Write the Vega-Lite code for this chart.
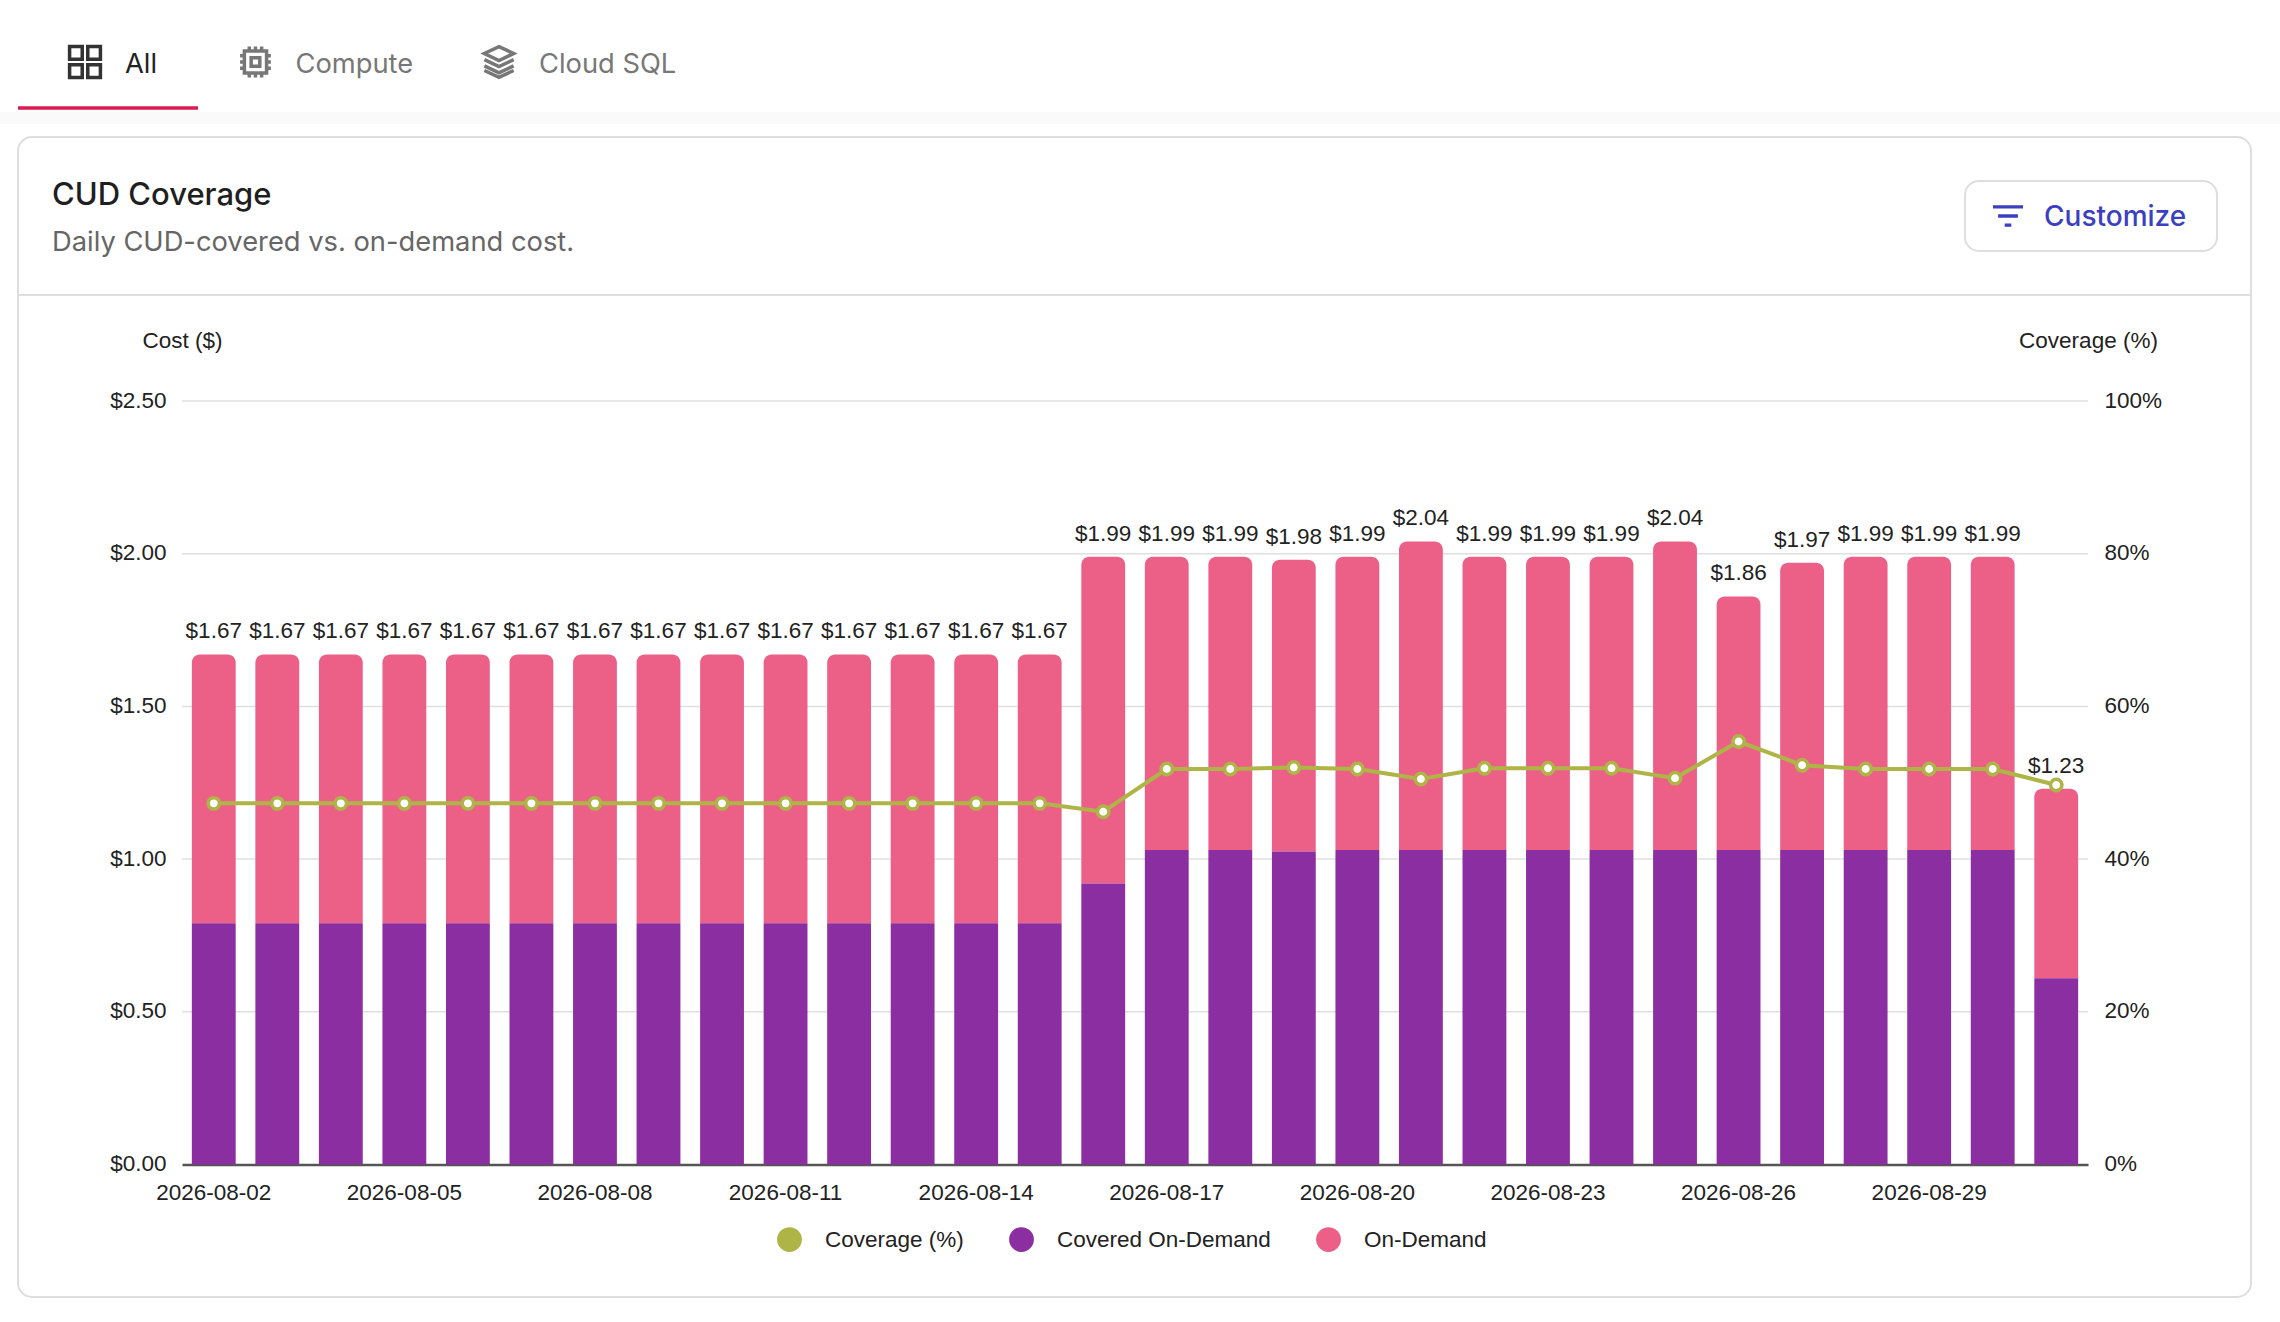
{
  "$schema": "https://vega.github.io/schema/vega-lite/v6.json",
  "background": "white",
  "autosize": {"type": "none"},
  "padding": {"left": 18, "top": 137, "right": 29, "bottom": 25},
  "width": 2233,
  "height": 1160,
  "view": {"stroke": "#dedede", "strokeWidth": 2, "cornerRadius": 14},
  "title": {
    "text": "CUD Coverage",
    "subtitle": "Daily CUD-covered vs. on-demand cost.",
    "anchor": "start",
    "frame": "group",
    "orient": "top",
    "offset": -218,
    "dx": 34,
    "font": "Inter",
    "fontSize": 31,
    "fontWeight": 500,
    "color": "#1f1f1f",
    "subtitleFont": "Inter",
    "subtitleFontSize": 27.3,
    "subtitleColor": "#666666",
    "subtitlePadding": 17
  },
  "datasets": {
    "days": [
      {"date": "2026-08-02", "covered": 0.79, "total": 1.67, "coverage": 47.3},
      {"date": "2026-08-03", "covered": 0.79, "total": 1.67, "coverage": 47.3},
      {"date": "2026-08-04", "covered": 0.79, "total": 1.67, "coverage": 47.3},
      {"date": "2026-08-05", "covered": 0.79, "total": 1.67, "coverage": 47.3},
      {"date": "2026-08-06", "covered": 0.79, "total": 1.67, "coverage": 47.3},
      {"date": "2026-08-07", "covered": 0.79, "total": 1.67, "coverage": 47.3},
      {"date": "2026-08-08", "covered": 0.79, "total": 1.67, "coverage": 47.3},
      {"date": "2026-08-09", "covered": 0.79, "total": 1.67, "coverage": 47.3},
      {"date": "2026-08-10", "covered": 0.79, "total": 1.67, "coverage": 47.3},
      {"date": "2026-08-11", "covered": 0.79, "total": 1.67, "coverage": 47.3},
      {"date": "2026-08-12", "covered": 0.79, "total": 1.67, "coverage": 47.3},
      {"date": "2026-08-13", "covered": 0.79, "total": 1.67, "coverage": 47.3},
      {"date": "2026-08-14", "covered": 0.79, "total": 1.67, "coverage": 47.3},
      {"date": "2026-08-15", "covered": 0.79, "total": 1.67, "coverage": 47.3},
      {"date": "2026-08-16", "covered": 0.92, "total": 1.99, "coverage": 46.2},
      {"date": "2026-08-17", "covered": 1.03, "total": 1.99, "coverage": 51.8},
      {"date": "2026-08-18", "covered": 1.03, "total": 1.99, "coverage": 51.8},
      {"date": "2026-08-19", "covered": 1.025, "total": 1.98, "coverage": 52.0},
      {"date": "2026-08-20", "covered": 1.03, "total": 1.99, "coverage": 51.8},
      {"date": "2026-08-21", "covered": 1.03, "total": 2.04, "coverage": 50.5},
      {"date": "2026-08-22", "covered": 1.03, "total": 1.99, "coverage": 51.9},
      {"date": "2026-08-23", "covered": 1.03, "total": 1.99, "coverage": 51.9},
      {"date": "2026-08-24", "covered": 1.03, "total": 1.99, "coverage": 51.9},
      {"date": "2026-08-25", "covered": 1.03, "total": 2.04, "coverage": 50.6},
      {"date": "2026-08-26", "covered": 1.03, "total": 1.86, "coverage": 55.4},
      {"date": "2026-08-27", "covered": 1.03, "total": 1.97, "coverage": 52.3},
      {"date": "2026-08-28", "covered": 1.03, "total": 1.99, "coverage": 51.8},
      {"date": "2026-08-29", "covered": 1.03, "total": 1.99, "coverage": 51.8},
      {"date": "2026-08-30", "covered": 1.03, "total": 1.99, "coverage": 51.8},
      {"date": "2026-08-31", "covered": 0.61, "total": 1.23, "coverage": 49.7}
    ],
    "gridlines": [
      {"cost": 0.5},
      {"cost": 1.0},
      {"cost": 1.5},
      {"cost": 2.0},
      {"cost": 2.5}
    ],
    "tabs": [
      {"part": "All", "zone": "tabs"},
      {"part": "Compute", "zone": "tabs"},
      {"part": "Cloud SQL", "zone": "tabs"}
    ],
    "active": [{"part": "All", "zone": "underline"}],
    "header": [
      {"part": "Customize", "zone": "button"},
      {"part": "divider", "zone": "divider"}
    ]
  },
  "layer": [
    {
      "data": {"name": "tabs"},
      "encoding": {
        "x": {
          "field": "part",
          "type": "nominal",
          "axis": null,
          "scale": {
            "type": "point",
            "padding": 0,
            "domain": ["All", "s1", "s2", "s3", "s4", "s5", "s6", "Compute", "s7", "s8", "s9", "s10", "s11", "s12", "s13", "s14", "s15", "Cloud SQL"],
            "range": [107, 521]
          }
        },
        "y": {
          "field": "zone",
          "type": "nominal",
          "axis": null,
          "scale": {
            "type": "point",
            "padding": 0,
            "domain": ["tabs", "underline"],
            "range": [-75, -29]
          }
        }
      },
      "layer": [
        {
          "data": {"name": "active"},
          "mark": {"type": "rule", "color": "#fafafa", "strokeWidth": 12, "yOffset": 10, "xOffset": -125, "x2Offset": 2155},
          "encoding": {"x2": {"field": "part"}}
        },
        {
          "data": {"name": "active"},
          "mark": {"type": "rule", "color": "#dc1a51", "strokeWidth": 3.5, "xOffset": -107, "x2Offset": 73},
          "encoding": {"x2": {"field": "part"}}
        },
        {
          "mark": {"type": "text", "align": "left", "baseline": "middle", "font": "Inter", "fontSize": 27.3, "dy": 3},
          "encoding": {
            "text": {"field": "part"},
            "color": {
              "field": "part",
              "type": "nominal",
              "legend": null,
              "scale": {"domain": ["All", "Compute", "Cloud SQL"], "range": ["#222222", "#777777", "#777777"]}
            }
          }
        },
        {
          "mark": {"type": "point", "filled": false, "size": 950, "strokeWidth": 3.5, "opacity": 1, "xOffset": -40},
          "encoding": {
            "stroke": {
              "field": "part",
              "type": "nominal",
              "legend": null,
              "scale": {"domain": ["All", "Compute", "Cloud SQL"], "range": ["#333333", "#777777", "#777777"]}
            },
            "shape": {
              "field": "part",
              "type": "nominal",
              "legend": null,
              "scale": {
                "domain": ["All", "Compute", "Cloud SQL"],
                "range": [
                  "M-1,-1H-0.18V-0.18H-1Z M0.18,-1H1V-0.18H0.18Z M-1,0.18H-0.18V1H-1Z M0.18,0.18H1V1H0.18Z",
                  "M-0.72,-0.72H0.72V0.72H-0.72Z M-0.28,-0.28H0.28V0.28H-0.28Z M-0.4,-1V-0.72 M0,-1V-0.72 M0.4,-1V-0.72 M-0.4,0.72V1 M0,0.72V1 M0.4,0.72V1 M-1,-0.4H-0.72 M-1,0H-0.72 M-1,0.4H-0.72 M0.72,-0.4H1 M0.72,0H1 M0.72,0.4H1",
                  "M0,-1L0.95,-0.55L0,-0.1L-0.95,-0.55Z M-0.95,-0.15L0,0.3L0.95,-0.15 M-0.95,0.25L0,0.7L0.95,0.25 M-0.95,0.55L0,1L0.95,0.55"
                ]
              }
            }
          }
        }
      ]
    },
    {
      "data": {"name": "header"},
      "encoding": {
        "y": {
          "field": "zone",
          "type": "nominal",
          "axis": null,
          "scale": {"type": "point", "padding": 0, "domain": ["button", "divider"], "range": [79, 158]}
        }
      },
      "layer": [
        {
          "transform": [{"filter": "datum.zone === 'divider'"}],
          "mark": {"type": "rule", "color": "#dedede", "strokeWidth": 2}
        },
        {
          "transform": [{"filter": "datum.zone === 'button'"}],
          "encoding": {
            "x": {
              "field": "part",
              "type": "nominal",
              "axis": null,
              "scale": {"type": "point", "padding": 0, "domain": ["Customize"], "range": [2073, 2073]}
            }
          },
          "layer": [
            {
              "mark": {"type": "rect", "width": 252, "height": 70, "cornerRadius": 14, "fill": "white", "stroke": "#dedede", "strokeWidth": 2}
            },
            {
              "mark": {"type": "point", "filled": true, "size": 900, "color": "#3b3fc0", "opacity": 1, "xOffset": -83, "shape": "M-1,-0.72H1V-0.5H-1Z M-0.66,-0.11H0.66V0.11H-0.66Z M-0.22,0.5H0.22V0.72H-0.22Z"}
            },
            {
              "mark": {"type": "text", "align": "left", "baseline": "middle", "font": "Inter", "fontSize": 28, "fontWeight": 500, "color": "#3b3fc0", "dx": -47, "dy": 2},
              "encoding": {"text": {"field": "part"}}
            }
          ]
        }
      ]
    },
    {
      "data": {"name": "days"},
      "encoding": {
        "x": {
          "field": "date",
          "type": "nominal",
          "title": null,
          "scale": {
            "type": "band",
            "domain": ["2026-08-02", "2026-08-03", "2026-08-04", "2026-08-05", "2026-08-06", "2026-08-07", "2026-08-08", "2026-08-09", "2026-08-10", "2026-08-11", "2026-08-12", "2026-08-13", "2026-08-14", "2026-08-15", "2026-08-16", "2026-08-17", "2026-08-18", "2026-08-19", "2026-08-20", "2026-08-21", "2026-08-22", "2026-08-23", "2026-08-24", "2026-08-25", "2026-08-26", "2026-08-27", "2026-08-28", "2026-08-29", "2026-08-30", "2026-08-31"],
            "range": [164, 2070],
            "paddingInner": 0.31,
            "paddingOuter": 0.155
          },
          "axis": {
            "orient": "bottom",
            "offset": -132.5,
            "values": ["2026-08-02", "2026-08-05", "2026-08-08", "2026-08-11", "2026-08-14", "2026-08-17", "2026-08-20", "2026-08-23", "2026-08-26", "2026-08-29"],
            "labelAngle": 0,
            "labelPadding": 17,
            "labelFont": "Liberation Sans",
            "labelFontSize": 22.5,
            "labelColor": "#222222",
            "ticks": false,
            "domainColor": "#555555",
            "domainWidth": 2.5,
            "grid": false
          }
        }
      },
      "layer": [
        {
          "encoding": {
            "y": {
              "field": "total",
              "type": "quantitative",
              "scale": {"domain": [0, 2.5], "range": [1027.5, 264]},
              "axis": {
                "orient": "left",
                "offset": -163,
                "values": [0, 0.5, 1, 1.5, 2, 2.5],
                "format": "$.2f",
                "labelPadding": 15,
                "labelOffset": -1,
                "labelFont": "Liberation Sans",
                "labelFontSize": 22.5,
                "labelColor": "#222222",
                "ticks": false,
                "domain": false,
                "grid": false,
                "title": "Cost ($)",
                "titleFont": "Liberation Sans",
                "titleFontSize": 22.5,
                "titleFontWeight": "normal",
                "titleColor": "#222222",
                "titleAngle": 0,
                "titleX": 1,
                "titleY": 203,
                "titleAlign": "center",
                "titleBaseline": "middle"
              }
            }
          },
          "layer": [
            {
              "data": {"name": "gridlines"},
              "mark": {"type": "rule", "color": "#e0e0e0", "strokeWidth": 1.5, "xOffset": -31.8, "x2Offset": 31.8},
              "encoding": {
                "x": {"datum": "2026-08-02"},
                "x2": {"datum": "2026-08-31"},
                "y": {"field": "cost", "type": "quantitative"}
              }
            },
            {
              "mark": {"type": "bar", "cornerRadiusTopLeft": 8, "cornerRadiusTopRight": 8},
              "encoding": {
                "y2": {"field": "covered"},
                "color": {
                  "datum": "On-Demand",
                  "title": null,
                  "scale": {
                    "domain": ["Coverage (%)", "Covered On-Demand", "On-Demand"],
                    "range": ["#aeb446", "#8b2ea1", "#ec6088"]
                  },
                  "legend": {
                    "orient": "none",
                    "legendX": 759,
                    "legendY": 1090,
                    "direction": "horizontal",
                    "symbolType": "circle",
                    "symbolSize": 616,
                    "symbolStrokeWidth": 0,
                    "labelFont": "Liberation Sans",
                    "labelFontSize": 22.5,
                    "labelColor": "#222222",
                    "labelLimit": 400,
                    "labelOffset": 23,
                    "columnPadding": 45
                  }
                }
              }
            },
            {
              "mark": {"type": "bar"},
              "encoding": {
                "y": {"field": "covered", "type": "quantitative"},
                "y2": {"datum": 0},
                "color": {"datum": "Covered On-Demand"}
              }
            },
            {
              "mark": {"type": "text", "baseline": "bottom", "dy": -11, "font": "Liberation Sans", "fontSize": 22.5, "color": "#222222"},
              "encoding": {
                "text": {"field": "total", "type": "quantitative", "format": "$.2f"}
              }
            }
          ]
        },
        {
          "encoding": {
            "y": {
              "field": "coverage",
              "type": "quantitative",
              "scale": {"domain": [0, 100], "range": [1027.5, 264]},
              "axis": {
                "orient": "right",
                "offset": -163,
                "values": [0, 20, 40, 60, 80, 100],
                "labelExpr": "datum.value + '%'",
                "labelPadding": 16,
                "labelOffset": -1,
                "labelFont": "Liberation Sans",
                "labelFontSize": 22.5,
                "labelColor": "#222222",
                "ticks": false,
                "domain": false,
                "grid": false,
                "title": "Coverage (%)",
                "titleFont": "Liberation Sans",
                "titleFontSize": 22.5,
                "titleFontWeight": "normal",
                "titleColor": "#222222",
                "titleAngle": 0,
                "titleX": 0,
                "titleY": 203,
                "titleAlign": "center",
                "titleBaseline": "middle"
              }
            }
          },
          "layer": [
            {
              "mark": {"type": "line", "strokeWidth": 4},
              "encoding": {"color": {"datum": "Coverage (%)"}}
            },
            {
              "mark": {"type": "point", "filled": true, "fill": "white", "stroke": "#aeb446", "strokeWidth": 3.5, "size": 130, "opacity": 1}
            }
          ]
        }
      ],
      "resolve": {"scale": {"y": "independent"}, "axis": {"y": "independent"}}
    }
  ],
  "resolve": {
    "scale": {"x": "independent", "y": "independent", "color": "independent", "shape": "independent", "stroke": "independent"},
    "axis": {"x": "independent", "y": "independent"}
  }
}
